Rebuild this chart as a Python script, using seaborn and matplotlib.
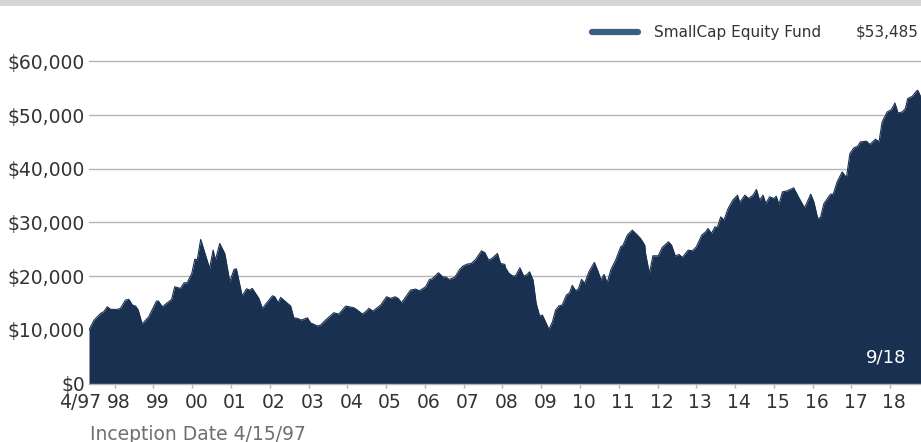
import numpy as np
import pandas as pd
import matplotlib
matplotlib.use("Agg")
import matplotlib.pyplot as plt
import matplotlib.transforms as mtransforms
from matplotlib.lines import Line2D
from matplotlib.patches import Rectangle
import seaborn as sns

# ---------------------------------------------------------------
# Data: growth of $10,000
# x values are fractional years
# ---------------------------------------------------------------
years = [
    1997.34, 1997.47, 1997.64, 1997.72, 1997.81, 1997.90, 1998.07, 1998.15,
    1998.28, 1998.37, 1998.46, 1998.54, 1998.61, 1998.71, 1998.88, 1999.08,
    1999.13, 1999.23, 1999.36, 1999.47, 1999.55, 1999.70, 1999.79, 1999.87,
    1999.99, 2000.07, 2000.13, 2000.22, 2000.45, 2000.54, 2000.60, 2000.71,
    2000.84, 2000.86, 2000.97, 2001.08, 2001.14, 2001.29, 2001.40, 2001.48,
    2001.55, 2001.72, 2001.81, 2002.07, 2002.13, 2002.22, 2002.28, 2002.54,
    2002.62, 2002.71, 2002.82, 2002.97, 2003.05, 2003.23, 2003.31, 2003.44,
    2003.65, 2003.78, 2003.96, 2004.17, 2004.26, 2004.39, 2004.47, 2004.56,
    2004.66, 2004.86, 2005.01, 2005.12, 2005.23, 2005.31, 2005.40, 2005.63,
    2005.76, 2005.86, 2006.02, 2006.12, 2006.19, 2006.35, 2006.46, 2006.55,
    2006.62, 2006.77, 2006.90, 2006.98, 2007.09, 2007.20, 2007.31, 2007.46,
    2007.55, 2007.64, 2007.74, 2007.87, 2007.95, 2008.06, 2008.08, 2008.17,
    2008.27, 2008.34, 2008.45, 2008.55, 2008.62, 2008.70, 2008.79, 2008.87,
    2008.96, 2009.03, 2009.13, 2009.20, 2009.29, 2009.37, 2009.46, 2009.54,
    2009.65, 2009.73, 2009.80, 2009.89, 2009.96, 2010.04, 2010.12, 2010.23,
    2010.37, 2010.47, 2010.54, 2010.62, 2010.70, 2010.80, 2010.92, 2011.05,
    2011.11, 2011.22, 2011.35, 2011.48, 2011.56, 2011.67, 2011.69, 2011.79,
    2011.88, 2012.02, 2012.12, 2012.28, 2012.36, 2012.46, 2012.55, 2012.64,
    2012.79, 2012.90, 2013.00, 2013.14, 2013.24, 2013.30, 2013.39, 2013.48,
    2013.54, 2013.63, 2013.71, 2013.82, 2013.94, 2014.06, 2014.12, 2014.25,
    2014.35, 2014.46, 2014.55, 2014.63, 2014.72, 2014.79, 2014.89, 2015.00,
    2015.06, 2015.13, 2015.22, 2015.34, 2015.51, 2015.64, 2015.79, 2015.95,
    2016.03, 2016.13, 2016.20, 2016.29, 2016.46, 2016.53, 2016.63, 2016.76,
    2016.87, 2016.96, 2017.06, 2017.16, 2017.23, 2017.39, 2017.47, 2017.62,
    2017.71, 2017.79, 2017.92, 2018.03, 2018.12, 2018.20, 2018.31, 2018.39,
    2018.45, 2018.57, 2018.68, 2018.71, 2018.78,
]
values = [
    10000, 11800, 13060, 13360, 14290, 13800, 13800, 13990,
    15530, 15660, 14600, 14420, 13670, 11070, 12430, 15350,
    15350, 14290, 15030, 15660, 18010, 17710, 18750, 18750,
    20500, 23160, 22980, 26830, 21430, 24840, 22980, 26080,
    24220, 23480, 18940, 21250, 21360, 16280, 17640, 17400,
    17710, 15850, 13990, 16340, 16150, 15030, 16040, 14420,
    12240, 12130, 11810, 12240, 11310, 10700, 10880, 11810,
    13170, 12930, 14420, 14100, 13670, 12930, 13360, 13990,
    13490, 14600, 16150, 15850, 16150, 15850, 15030, 17400,
    17580, 17270, 18010, 19380, 19500, 20620, 19870, 19810,
    19380, 19760, 21250, 21860, 22230, 22360, 23110, 24710,
    24340, 22980, 23350, 24220, 22360, 22180, 21550, 20500,
    20000, 20060, 21550, 20000, 20190, 20800, 19260, 14920,
    12560, 12740, 11200, 10080, 11500, 13670, 14470, 14600,
    16470, 16890, 18270, 17270, 17640, 19380, 18640, 20800,
    22550, 20800, 19260, 20320, 18750, 21250, 22980, 25450,
    25770, 27630, 28560, 27630, 27010, 25770, 24220, 20500,
    23780, 23780, 25340, 26380, 25770, 23720, 24040, 23480,
    24840, 24710, 25450, 27630, 28240, 28870, 27940, 29170,
    29060, 31030, 30420, 32600, 34140, 35070, 33710, 35070,
    34450, 35070, 36130, 34140, 35070, 33520, 34760, 34450,
    34880, 33340, 35680, 35870, 36430, 34640, 32710, 35260,
    33820, 30730, 30920, 33520, 35260, 35260, 37540, 39400,
    38360, 42830, 43870, 44190, 44990, 45120, 44500, 45490,
    44990, 48710, 50570, 51010, 52240, 50380, 50570, 51200,
    53060, 53490, 54480, 54600, 53485,
]

fund_name = "SmallCap Equity Fund"
ending_value = "$53,485"
year_ticks = list(range(1998, 2019))
year_labels = [f"{y % 100:02d}" for y in year_ticks]
start_label = "4/97"
end_label = "9/18"
y_ticks = [0, 10000, 20000, 30000, 40000, 50000, 60000]
y_labels = ["$0", "$10,000", "$20,000", "$30,000", "$40,000", "$50,000", "$60,000"]
footnote = "Inception Date 4/15/97"

df = pd.DataFrame({"year": years, "value": values})

# ---------------------------------------------------------------
# Styling
# ---------------------------------------------------------------
sns.set_theme(style="white")
plt.rcParams["font.family"] = ["DejaVu Sans"]

navy = "#1a3050"
legend_blue = "#3b5e85"
grid_grey = "#b5b5b5"
text_col = "#333333"

W, H = 921, 442
fig = plt.figure(figsize=(W / 100, H / 100), dpi=100)
ax = fig.add_axes([89 / W, 1 - 383.5 / H, (920.5 - 89) / W, (383.5 - 61.3) / H])

# area chart
ax.fill_between(df["year"], df["value"], 0, color=navy, linewidth=0, zorder=2)
sns.lineplot(data=df, x="year", y="value", ax=ax, color=navy, linewidth=0.8,
             zorder=3, estimator=None, sort=False)

ax.set_xlim(years[0], years[-1])
ax.set_ylim(0, 60000)

# grid lines (behind the area)
for yv in y_ticks[1:]:
    ax.axhline(yv, color=grid_grey, linewidth=1.0, zorder=1, clip_on=False)

for side in ["top", "right", "left"]:
    ax.spines[side].set_visible(False)
ax.spines["bottom"].set_color(grid_grey)
ax.spines["bottom"].set_linewidth(1.0)
ax.spines["bottom"].set_zorder(4)

ax.set_yticks(y_ticks)
ax.set_yticklabels(y_labels)
ax.tick_params(axis="y", length=0, pad=3, labelsize=13.5, labelcolor=text_col)

ax.set_xticks([years[0]] + year_ticks)
ax.set_xticklabels([start_label] + year_labels)
ax.tick_params(axis="x", bottom=True, direction="out", length=3, width=1,
               color=grid_grey, pad=4, labelsize=13.5, labelcolor=text_col)
ax.xaxis.get_major_ticks()[0].tick1line.set_visible(False)

# labels sit a little right of their tick marks
shift = mtransforms.ScaledTranslation(4 / 100, 0, fig.dpi_scale_trans)
for i, lab in enumerate(ax.get_xticklabels()):
    if i == 0:
        lab.set_transform(lab.get_transform()
                          + mtransforms.ScaledTranslation(-9 / 100, 0, fig.dpi_scale_trans))
    else:
        lab.set_transform(lab.get_transform() + shift)

ax.set_xlabel("")
ax.set_ylabel("")

# end-date label inside the area
ax.text(906 / W, 1 - 363 / H, end_label, transform=fig.transFigure, color="white",
        fontsize=13, ha="right", va="baseline", zorder=5)

# legend (top right)
fig.add_artist(Line2D([592 / W, 638 / W], [1 - 32 / H, 1 - 32 / H], color=legend_blue,
                      linewidth=4.5, solid_capstyle="round", transform=fig.transFigure))
fig.text(654 / W, 1 - 32 / H, fund_name, color=text_col, fontsize=11, ha="left", va="center")
fig.text(919 / W, 1 - 32 / H, ending_value, color=text_col, fontsize=11, ha="right", va="center")

# grey header band at the very top
fig.add_artist(Rectangle((0, 1 - 6 / H), 1, 6 / H, transform=fig.transFigure,
                         facecolor="#d6d6d6", edgecolor="none"))

fig.text(90 / W, 1 - 440 / H, footnote, color="#6f6f6f", fontsize=13.5,
         ha="left", va="baseline")

plt.savefig("out.png", dpi=100)
